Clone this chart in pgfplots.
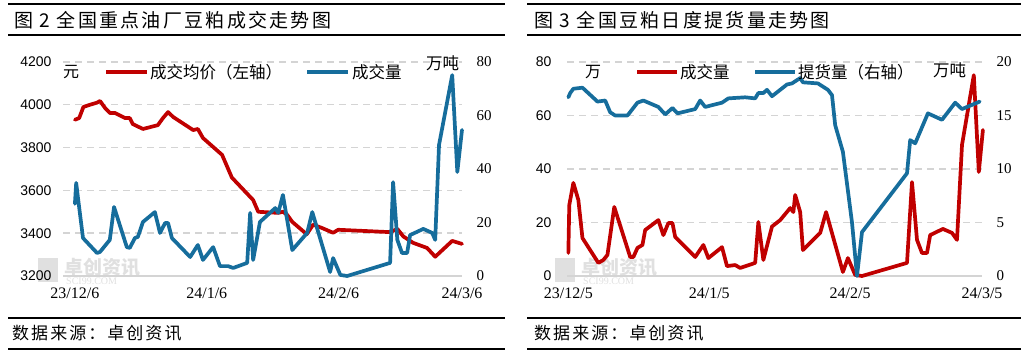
\documentclass[border=0pt]{standalone}
\usepackage{pgfplots}
\pgfplotsset{compat=1.18}
\usepackage{fontspec}
\setmainfont{Liberation Serif}
\newfontfamily\cjk{Noto Sans CJK SC}
\newfontfamily\cjkt[LetterSpace=12]{Noto Sans CJK SC}
\newfontfamily\lsans{Liberation Sans}
\definecolor{cred}{RGB}{192,0,0}
\definecolor{cblue}{RGB}{22,109,156}
\definecolor{cgrid}{RGB}{212,212,212}
\definecolor{cwm}{RGB}{224,224,224}

\pgfplotsset{
  panel/.style={scale only axis, clip=false, axis line style={draw=none},
    major tick style={draw=none}, minor tick style={draw=none},
    /pgf/number format/assume math mode=true, /pgf/number format/1000 sep={}},
  ser/.style={line width=3.7pt, line join=round, line cap=round, no marks},
  gridd/.style={ymajorgrids, grid style={cgrid, line width=1.4pt, dash pattern=on 7pt off 5pt}},
}

\pgfplotstableread{
d v
0 3930
1 3938
2 3990
3.5 4000
5.2 4010
5.9 4018
7.1 3985
8.2 3962
9.4 3962
11.8 3938
12.9 3938
13.6 3910
16 3887
19.5 3905
20.7 3938
21.9 3966
23.1 3943
27.8 3882
28.9 3887
30.1 3845
34.6 3766
36.9 3660
41.9 3555
43.1 3500
47.8 3495
48.9 3500
49.9 3486
51.1 3453
54.5 3395
56 3440
58 3425
60.7 3402
61.9 3416
74.1 3405
75.8 3420
77.2 3385
79.5 3355
82.8 3331
84.7 3290
88.7 3364
91 3350
}\priceA

\pgfplotstableread{
d v
0 27
0.3 34.8
0.7 29.5
1.9 14.2
5.2 8.6
5.9 9.0
8.2 13.5
9.2 25.8
12.2 10.8
12.9 10.5
14.1 14.2
14.8 14.6
16 20.2
18.8 23.9
20 16.1
21.2 19.8
21.9 19.8
22.8 14.2
27.1 7.1
28.9 11.6
30.1 6.0
32.5 10.8
34.1 3.7
36 3.7
37.2 3.0
40.5 4.9
41.2 23.6
41.9 6.0
43.5 20.2
47.1 25.4
47.8 23.6
48.9 30.3
51.1 9.7
54.6 16.1
55.8 23.9
60 1.5
60.7 6.7
62.4 0.4
64 0
74.1 4.9
74.8 35.1
75.8 13.5
76.9 8.6
78.1 8.6
78.8 15.3
81.9 17.6
84 16.1
84.7 13.5
85.6 49.0
88.7 75.1
89.9 38.9
91 54.6
}\volA

\pgfplotstableread{
d v
0 8.6
0.2 26.5
1.1 34.8
2.2 28.4
3.1 14.2
6.6 4.9
7.7 6.0
8.6 7.9
10.1 25.8
13.6 7.1
14.3 7.1
15.2 10.5
16.3 11.6
16.9 17.2
19.8 20.9
20.9 15.3
22 19.8
22.9 19.8
23.5 14.6
27.9 7.1
29.7 11.6
30.8 6.7
33.8 10.8
34.9 3.7
36.7 4.1
37.8 3.0
41.1 4.9
41.8 20.2
42.9 6.0
44.8 18.5
46.6 20.9
48.8 25.4
49.5 23.9
49.9 30.3
51 23.9
51.6 9.7
55.4 16.1
56.7 23.9
60.4 1.5
61.5 6.7
63.1 0.4
64.6 0
74.5 4.9
75.6 35.1
76.7 13.5
77.8 8.6
78.9 8.6
79.6 15.3
82.4 17.6
84.4 16.1
85.5 13.5
86.6 49.0
89.2 75.1
90.3 38.9
91.2 54.6
}\volB

\pgfplotstableread{
d v
0 16.7
0.4 17.1
1.1 17.5
3.1 17.6
6.4 16.3
8.1 16.4
9.2 15.3
10.3 15.0
13 15.0
15.2 16.2
16.5 16.4
19.8 15.8
21.3 15.1
22.9 15.7
24 15.2
27.9 15.6
29 16.4
30.1 15.8
33.8 16.2
35.2 16.6
38.9 16.7
41.1 16.6
41.8 17.1
42.9 17.1
43.7 17.4
44.8 16.8
48.1 17.9
49.2 18.0
51 18.5
51.6 18.1
54.9 18.0
57.1 17.4
58 16.9
58.7 14.1
60.4 11.6
62.4 5.0
63.5 0
64.6 4.1
74.5 9.6
75.2 12.7
76.3 12.4
79.1 15.2
82.2 14.6
83.3 15.2
85.1 16.2
86.6 15.6
90.5 16.3
}\pickB

\begin{document}
\begin{tikzpicture}
\useasboundingbox (0,0) rectangle (1029pt,-358pt);
\begin{scope}[x=1pt,y=-1pt]
% rules
\foreach \a/\b in {8/505,527/1021}{
  \draw[black, line width=1.5pt] (\a,4) -- (\b,4);
  \draw[black, line width=1.5pt] (\a,35) -- (\b,35);
  \draw[black, line width=1.5pt] (\a,318) -- (\b,318);
  \draw[black, line width=1.5pt] (\a,349) -- (\b,349);
}
\node[anchor=west, inner sep=0] at (14,20) {\cjkt\fontsize{19}{19}\selectfont 图 2 全国重点油厂豆粕成交走势图};
\node[anchor=west, inner sep=0] at (534,20) {\cjkt\fontsize{19}{19}\selectfont 图 3 全国豆粕日度提货量走势图};
\node[anchor=west, inner sep=0] at (12,333) {\cjkt\fontsize{17}{17}\selectfont 数据来源：卓创资讯};
\node[anchor=west, inner sep=0] at (534,333) {\cjkt\fontsize{17}{17}\selectfont 数据来源：卓创资讯};
% watermarks
\foreach \ox in {0,517}{
  \fill[cwm] (\ox+38,258) rectangle (\ox+58,282);
  \node[anchor=west, inner sep=0, text=cwm] at (\ox+64,267) {\cjk\bfseries\fontsize{19}{19}\selectfont 卓创资讯};
  \node[anchor=west, inner sep=0, text=cwm] at (\ox+66,281) {\fontsize{10}{10}\selectfont SCI99.COM};
}
\end{scope}

% ---------- panel 1 ----------
\begin{axis}[panel, gridd, at={(63pt,-276pt)}, anchor=south west, width=399pt, height=214pt,
  xmin=-2.8, xmax=91, ymin=3200, ymax=4200, ytick={3200,3400,...,4200},
  xtick={0,31,62,91}, xticklabels={23/12/6,24/1/6,24/2/6,24/3/6},
  xticklabel style={font=\fontsize{16}{16}\selectfont, yshift=-8pt},
  yticklabel style={font=\lsans\fontsize{14}{14}\selectfont, xshift=-8pt}]
\draw[cgrid, line width=1.4pt] (rel axis cs:0,0) -- (rel axis cs:1,0);
\addplot[ser, cred] table {\priceA};
\end{axis}
\begin{axis}[panel, at={(63pt,-276pt)}, anchor=south west, width=399pt, height=214pt,
  xmin=-2.8, xmax=91, ymin=0, ymax=80, ytick={0,20,...,80}, xtick=\empty,
  yticklabel pos=right,
  yticklabel style={font=\fontsize{15}{15}\selectfont, xshift=11pt}]
\addplot[ser, cblue] table {\volA};
\end{axis}

% ---------- panel 2 ----------
\begin{axis}[panel, gridd, at={(567pt,-276pt)}, anchor=south west, width=415pt, height=214pt,
  xmin=-0.3, xmax=91, ymin=0, ymax=80, ytick={0,20,...,80},
  xtick={0,31,62,91}, xticklabels={23/12/5,24/1/5,24/2/5,24/3/5},
  xticklabel style={font=\fontsize{16}{16}\selectfont, yshift=-8pt},
  yticklabel style={font=\lsans\fontsize{14}{14}\selectfont, xshift=-12pt}]
\draw[cgrid, line width=1.4pt] (rel axis cs:0,0) -- (rel axis cs:1,0);
\addplot[ser, cred] table {\volB};
\end{axis}
\begin{axis}[panel, at={(567pt,-276pt)}, anchor=south west, width=415pt, height=214pt,
  xmin=-0.3, xmax=91, ymin=0, ymax=20, ytick={0,5,...,20}, xtick=\empty,
  yticklabel pos=right,
  yticklabel style={font=\fontsize{15}{15}\selectfont, xshift=11pt}]
\addplot[ser, cblue] table {\pickB};
\end{axis}

\begin{scope}[x=1pt,y=-1pt]
% legends and units, panel 1
\node[anchor=west, inner sep=0] at (63,72) {\cjk\fontsize{16}{16}\selectfont 元};
\draw[cred, line width=4pt] (106,72) -- (147,72);
\node[anchor=west, inner sep=0] at (150,72) {\cjk\fontsize{16.5}{16.5}\selectfont 成交均价（左轴）};
\draw[cblue, line width=4pt] (307,72) -- (348,72);
\node[anchor=west, inner sep=0] at (352,72) {\cjk\fontsize{16.5}{16.5}\selectfont 成交量};
\node[anchor=west, inner sep=0] at (426,63) {\cjk\fontsize{16.5}{16.5}\selectfont 万吨};
% panel 2
\node[anchor=west, inner sep=0] at (585,72) {\cjk\fontsize{16}{16}\selectfont 万};
\draw[cred, line width=4pt] (637,72) -- (677,72);
\node[anchor=west, inner sep=0] at (680,72) {\cjk\fontsize{16.5}{16.5}\selectfont 成交量};
\draw[cblue, line width=4pt] (755,72) -- (795,72);
\node[anchor=west, inner sep=0] at (798,72) {\cjk\fontsize{16.5}{16.5}\selectfont 提货量（右轴）};
\node[anchor=west, inner sep=0] at (933,70) {\cjk\fontsize{16.5}{16.5}\selectfont 万吨};
\end{scope}
\end{tikzpicture}
\end{document}
